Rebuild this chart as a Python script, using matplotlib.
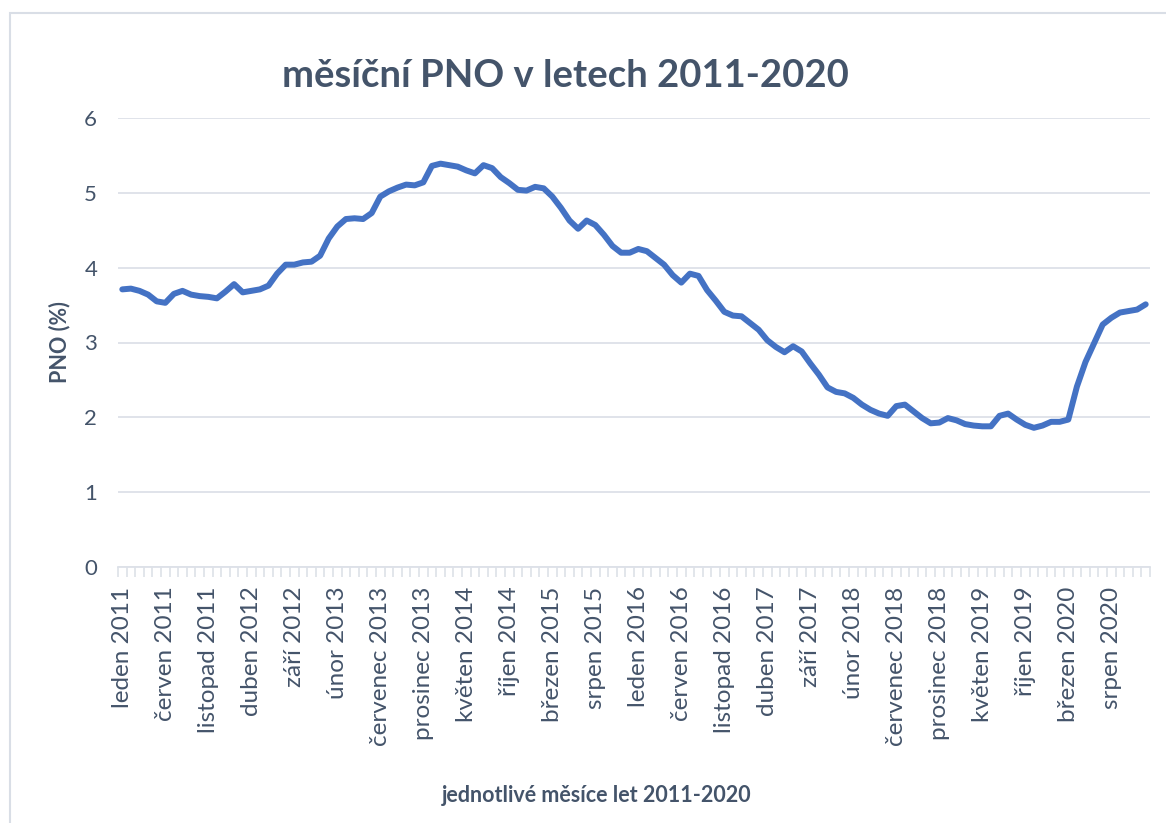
import matplotlib
matplotlib.use("Agg")
import matplotlib.pyplot as plt
from matplotlib.patches import Rectangle

plt.rcParams['font.family'] = ['Lato', 'DejaVu Sans']

months_cz = ["leden", "únor", "březen", "duben", "květen", "červen",
             "červenec", "srpen", "září", "říjen", "listopad", "prosinec"]
years = list(range(2011, 2021))
categories = [f"{m} {y}" for y in years for m in months_cz]

pno = [
    3.71, 3.72, 3.69, 3.64, 3.55, 3.53, 3.65, 3.69, 3.64, 3.62, 3.61, 3.59,  # 2011
    3.68, 3.78, 3.67, 3.69, 3.71, 3.76, 3.92, 4.04, 4.04, 4.07, 4.08, 4.16,  # 2012
    4.39, 4.55, 4.65, 4.66, 4.65, 4.73, 4.95, 5.02, 5.07, 5.11, 5.10, 5.14,  # 2013
    5.36, 5.39, 5.37, 5.35, 5.30, 5.26, 5.37, 5.33, 5.21, 5.13, 5.04, 5.03,  # 2014
    5.08, 5.06, 4.95, 4.80, 4.63, 4.52, 4.63, 4.57, 4.44, 4.29, 4.20, 4.20,  # 2015
    4.25, 4.22, 4.13, 4.04, 3.90, 3.80, 3.92, 3.89, 3.70, 3.56, 3.41, 3.36,  # 2016
    3.35, 3.26, 3.17, 3.03, 2.94, 2.87, 2.95, 2.88, 2.72, 2.57, 2.40, 2.34,  # 2017
    2.32, 2.26, 2.17, 2.10, 2.05, 2.02, 2.15, 2.17, 2.08, 1.99, 1.92, 1.93,  # 2018
    1.99, 1.96, 1.91, 1.89, 1.88, 1.88, 2.02, 2.05, 1.97, 1.90, 1.86, 1.89,  # 2019
    1.94, 1.94, 1.97, 2.41, 2.74, 2.99, 3.24, 3.33, 3.40, 3.42, 3.44, 3.51,  # 2020
]

y_ticks = [0, 1, 2, 3, 4, 5, 6]
title = "měsíční PNO v letech 2011-2020"
x_title = "jednotlivé měsíce let 2011-2020"
y_title = "PNO (%)"

W, H = 1166, 823
fig = plt.figure(figsize=(W / 100, H / 100), dpi=100)
fig.patch.set_facecolor("white")

# chart border
fig.patches.append(Rectangle((10 / W, -0.1), 1.2, 1 - 13 / H + 0.1,
                             transform=fig.transFigure, fill=False,
                             edgecolor="#D9DEE6", lw=1.5))

ax = fig.add_axes([118 / W, 1 - 567 / H, (1150 - 118) / W, (567 - 118) / H])
text_color = "#44546A"
grid_color = "#DDE1E8"

x = list(range(len(pno)))
ax.plot(x, pno, color="#4472C4", lw=4.3, solid_joinstyle="round",
        solid_capstyle="round", zorder=3)

ax.set_xlim(-0.5, len(pno) - 0.5)
ax.set_ylim(0, 6)
ax.set_yticks(y_ticks)
ax.set_yticklabels([str(t) for t in y_ticks])
ax.yaxis.grid(True, color=grid_color, lw=1.3)
ax.set_axisbelow(True)
ax.tick_params(axis="y", length=0, pad=15, labelsize=16, labelcolor=text_color)

ax.set_xticks(x[::5])
ax.set_xticklabels(categories[::5], rotation=90, fontsize=17.5, color=text_color)
ax.set_xticks([i - 0.5 for i in range(len(pno) + 1)], minor=True)
ax.tick_params(axis="x", which="major", length=0, pad=14)
ax.tick_params(axis="x", which="minor", length=7, width=1.2, color=grid_color)

for s in ["top", "right", "left"]:
    ax.spines[s].set_visible(False)
ax.spines["bottom"].set_color(grid_color)
ax.spines["bottom"].set_linewidth(1.3)

fig.text(565 / W, 1 - 76 / H, title, ha="center", va="center",
         fontsize=27.5, fontweight="bold", color=text_color)
fig.text(60 / W, 1 - 342 / H, y_title, ha="center", va="center", rotation=90,
         fontsize=15.5, fontweight="bold", color=text_color)
fig.text(597 / W, 1 - 795 / H, x_title, ha="center", va="center",
         fontsize=15.5, fontweight="bold", color=text_color)

fig.savefig("out.png", dpi=100)
